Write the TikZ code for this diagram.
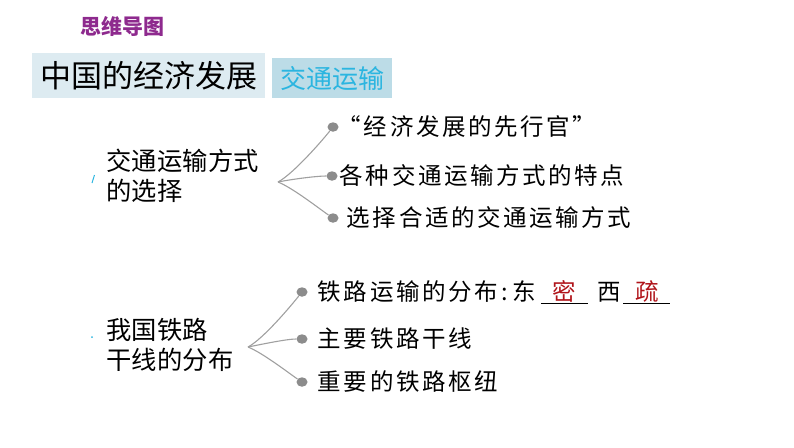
\documentclass[tikz,border=0pt]{standalone}
\usepackage{fontspec}
\setmainfont{Noto Sans CJK SC}
\newfontfamily\spacedfont{Noto Sans CJK SC}[LetterSpace=11]
\newfontfamily\topicfont{Noto Sans CJK SC}[LetterSpace=1]
\usepackage{xcolor}
\usepackage{tikz}
\usetikzlibrary{positioning,shapes.geometric}
\definecolor{mapviolet}{HTML}{8E2A8E}
\definecolor{titlebg}{HTML}{DDEBF1}
\definecolor{subbg}{HTML}{BCDCE7}
\definecolor{subtext}{HTML}{2BB5E0}
\definecolor{answer}{HTML}{B0141A}
\definecolor{twiggray}{HTML}{A0A0A0}
\definecolor{dotgray}{HTML}{8C8C8C}
\newcommand{\fillin}[1]{\underline{\makebox[47pt]{\textcolor{answer}{#1}}}}

\begin{document}
\begin{tikzpicture}[
    x=1pt, y=-1pt,
    heading/.style={font=\fontsize{21}{24}\selectfont\bfseries, text=mapviolet, inner sep=0pt},
    titlebox/.style={fill=titlebg, minimum width=233pt, minimum height=45pt, inner sep=0pt, font=\fontsize{31}{34}\selectfont},
    subbox/.style={fill=subbg, minimum width=120pt, minimum height=40pt, inner sep=0pt, text=subtext, font=\fontsize{26}{30}\selectfont},
    topic/.style={align=left, inner sep=0pt, font=\topicfont\fontsize{25.3}{30.5}\selectfont},
    leaf/.style={inner sep=0pt, font=\spacedfont\fontsize{23.5}{26}\selectfont},
    knob/.style={ellipse, fill=dotgray, minimum width=11pt, minimum height=9.5pt, inner sep=0pt},
    twig/.style={draw=twiggray, line width=1.1pt},
    scribble/.style={draw=subtext, line width=1pt}
]
\useasboundingbox (0,0) rectangle (794,447);

\node[heading] (mindmap) at (122,26) {思维导图};
\node[titlebox, anchor=north west] (chapter) at (32,53) {中国的经济发展};
\node[subbox, anchor=north west] (section) at (272,58) {交通运输};

\node[topic, anchor=west] (choice) at (106,176) {交通运输方式\\的选择};
\node[topic, anchor=west] (railnet) at (106,345) {我国铁路\\干线的分布};

\coordinate (hubA) at (278,182);
\coordinate (hubB) at (248,347);

\node[knob] (dotA1) at (333,127) {};
\node[knob] (dotA2) at (332,176) {};
\node[knob] (dotA3) at (333,218) {};
\node[knob] (dotB1) at (302,292) {};
\node[knob] (dotB2) at (302,339) {};
\node[knob] (dotB3) at (302,382) {};

\node[leaf, right=-1pt of dotA1] (pioneer) {“经济发展的先行官”};
\node[leaf, right=2pt of dotA2] (features) {各种交通运输方式的特点};
\node[leaf, right=8pt of dotA3] (select) {选择合适的交通运输方式};
\node[leaf, right=10pt of dotB1] (spread) {铁路运输的分布\,:\,东\hspace{5pt}\fillin{密}\hspace{10pt}西\hspace{2pt}\fillin{疏}};
\node[leaf, right=10pt of dotB2] (trunks) {主要铁路干线};
\node[leaf, right=10pt of dotB3] (hubs) {重要的铁路枢纽};

\draw[twig] (hubA) .. controls +(15,-8) and +(-12,15) .. (dotA1);
\draw[twig] (hubA) .. controls +(15,-3) and +(-15,0) .. (dotA2);
\draw[twig] (hubA) .. controls +(15,6) and +(-12,-8) .. (dotA3);
\draw[twig] (hubB) .. controls +(15,-8) and +(-12,15) .. (dotB1);
\draw[twig] (hubB) .. controls +(15,-3) and +(-15,0) .. (dotB2);
\draw[twig] (hubB) .. controls +(15,6) and +(-12,-8) .. (dotB3);

\draw[scribble] (92,183) -- (94.5,175);
\fill[subtext] (92,337) circle (1);
\end{tikzpicture}
\end{document}
